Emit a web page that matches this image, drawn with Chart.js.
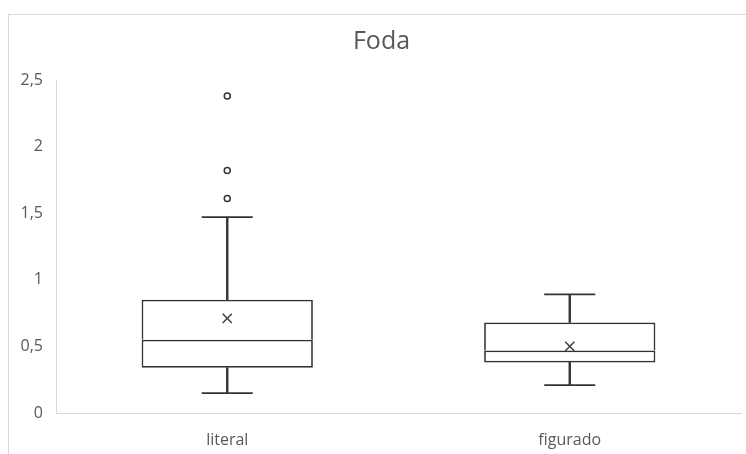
<!DOCTYPE html>
<html>
<head>
<meta charset="utf-8">
<script src="https://cdn.jsdelivr.net/npm/chart.js@4/dist/chart.umd.min.js"></script>
<style>
  html, body { margin: 0; padding: 0; background: #fff; overflow: hidden; }
  #wrap { position: relative; width: 746px; height: 454px; overflow: hidden; }
  #frame { position: absolute; left: 8px; top: 14px; width: 800px; height: 500px; border: 1px solid #d9d9d9; box-sizing: border-box; }
  canvas { position: absolute; left: 0; top: 0; }
</style>
</head>
<body>
<div id="wrap">
  <div id="frame"></div>
  <canvas id="c" width="746" height="454"></canvas>
</div>
<script>
const chartTitle = 'Foda';
const categories = ['literal', 'figurado'];
const minVals = [0.15, 0.21];
const q1Vals = [0.34, 0.38];
const medianVals = [0.55, 0.47];
const q3Vals = [0.85, 0.68];
const maxVals = [1.47, 0.89];
const meanVals = [0.71, 0.50];
const outliersLiteral = [2.38, 1.82, 1.61];
const yTickLabels = ['0', '0,5', '1', '1,5', '2', '2,5'];

const lineCol = '#333333';
const textCol = '#595959';
const axisCol = '#d9d9d9';
const fontFam = '"Open Sans", sans-serif';

const boxCommon = {
  type: 'bar', grouped: false, backgroundColor: '#ffffff', borderColor: lineCol,
  borderWidth: 1.75, barPercentage: 0.5, categoryPercentage: 1, order: 5
};
const whiskerCommon = {
  type: 'bar', grouped: false, backgroundColor: lineCol, borderWidth: 0,
  barThickness: 1.75, order: 6
};
const pointCommon = { type: 'line', showLine: false, order: 1 };

// shift the title block so it is centred on the outer chart frame (x 8..755)
const titleShift = {
  id: 'titleShift',
  afterLayout(chart) {
    const t = chart.titleBlock;
    if (t) { t.left += 11; t.right += 11; }
  }
};

new Chart(document.getElementById('c'), {
  type: 'bar',
  plugins: [titleShift],
  data: {
    labels: categories,
    datasets: [
      Object.assign({}, whiskerCommon, { data: categories.map((c, i) => [minVals[i], q1Vals[i]]) }),
      Object.assign({}, whiskerCommon, { data: categories.map((c, i) => [q3Vals[i], maxVals[i]]) }),
      Object.assign({}, boxCommon, { data: categories.map((c, i) => [q1Vals[i], medianVals[i]]), borderSkipped: false }),
      Object.assign({}, boxCommon, { data: categories.map((c, i) => [medianVals[i], q3Vals[i]]), borderSkipped: 'bottom' }),
      Object.assign({}, pointCommon, { data: minVals, pointStyle: 'line', pointRadius: 25.5, borderColor: lineCol, borderWidth: 1.75 }),
      Object.assign({}, pointCommon, { data: maxVals, pointStyle: 'line', pointRadius: 25.5, borderColor: lineCol, borderWidth: 1.75 }),
      Object.assign({}, pointCommon, { data: meanVals, pointStyle: 'crossRot', pointRadius: 6.5, borderColor: '#404040', borderWidth: 1.5, order: 0 }),
      Object.assign({}, pointCommon, { data: outliersLiteral.map(v => ({ x: categories[0], y: v })), pointStyle: 'circle', pointRadius: 3, backgroundColor: '#ffffff', borderColor: lineCol, borderWidth: 1.5, order: 0 })
    ]
  },
  options: {
    responsive: false,
    animation: false,
    layout: { autoPadding: false, padding: { left: 0, right: 5, top: 0, bottom: 0 } },
    plugins: {
      legend: { display: false },
      tooltip: { enabled: false },
      title: {
        display: true, text: chartTitle, color: textCol,
        font: { family: fontFam, size: 25, weight: 'normal' },
        padding: { top: 27, bottom: 23 }
      }
    },
    scales: {
      x: {
        grid: { display: false, drawTicks: false },
        border: { display: true, color: axisCol, width: 1 },
        ticks: { color: textCol, font: { family: fontFam, size: 16 }, padding: 18 },
        afterFit: (axis) => { axis.height = 41; axis.paddingLeft = 0; axis.paddingRight = 0; }
      },
      y: {
        min: 0, max: 2.5,
        grid: { display: false, drawTicks: false },
        border: { display: true, color: axisCol, width: 1 },
        ticks: {
          stepSize: 0.5, color: textCol, font: { family: fontFam, size: 16 }, padding: 13,
          callback: (v, i) => yTickLabels[i]
        },
        afterFit: (axis) => { axis.width = 56; axis.paddingTop = 0; axis.paddingBottom = 0; }
      }
    }
  }
});
</script>
</body>
</html>
